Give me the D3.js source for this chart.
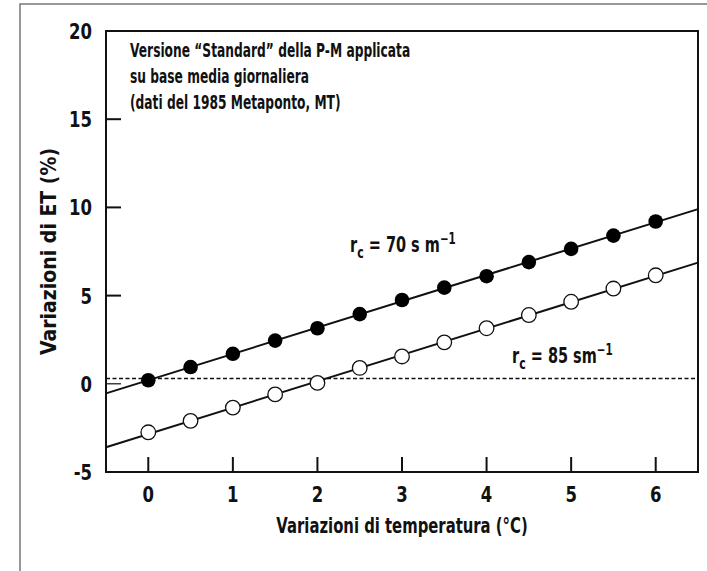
<!DOCTYPE html>
<html>
<head>
<meta charset="utf-8">
<script src="https://cdn.jsdelivr.net/npm/d3@7"></script>
<style>
  body { margin: 0; background: #fff; }
  svg text { font-family: "DejaVu Sans", sans-serif; font-weight: bold; fill: #111; }
</style>
</head>
<body>
<div id="img"></div>
<script>
// variazioni di temperatura (°C)
const temp = [0, 0.5, 1, 1.5, 2, 2.5, 3, 3.5, 4, 4.5, 5, 5.5, 6];
// variazioni di ET (%) per rc = 70 s m-1 e rc = 85 s m-1
const et70 = [0.2, 0.95, 1.7, 2.45, 3.15, 3.95, 4.75, 5.45, 6.1, 6.9, 7.65, 8.4, 9.2];
const et85 = [-2.75, -2.1, -1.35, -0.6, 0.05, 0.9, 1.55, 2.35, 3.15, 3.9, 4.65, 5.4, 6.15];
const xTicks = [0, 1, 2, 3, 4, 5, 6];
const yTicks = [-5, 0, 5, 10, 15, 20];
const refLevel = 0.3;
const noteLines = ["Versione \u201CStandard\u201D della P-M applicata", "su base media giornaliera", "(dati del 1985 Metaponto, MT)"];

const W = 707, H = 571;
const svg = d3.select("#img").append("svg")
    .attr("width", W)
    .attr("height", H);

// cornice esterna (solo lato sinistro e superiore visibili)
svg.append("path")
    .attr("d", "M20," + H + "V4H" + W)
    .attr("fill", "none")
    .attr("stroke", "#777")
    .attr("stroke-width", 1.5);

const x = d3.scaleLinear().domain([-0.5, 6.5]).range([106, 698]);
const y = d3.scaleLinear().domain([-5, 20]).range([472, 31]);

// testo "stretto": il carattere viene compresso in orizzontale di un fattore k
function narrow(parent, px, py, size, k, anchor, rot) {
    return parent.append("g")
        .attr("transform", "translate(" + px + "," + py + ")" + (rot ? " rotate(" + rot + ")" : "") + " scale(" + k + ",1)")
        .append("text")
        .attr("font-size", size)
        .attr("text-anchor", anchor || "start");
}

const g = svg.append("g");

// riquadro del grafico
g.append("rect")
    .attr("x", x(-0.5)).attr("y", y(20))
    .attr("width", x(6.5) - x(-0.5)).attr("height", y(-5) - y(20))
    .attr("fill", "none").attr("stroke", "#111").attr("stroke-width", 2);

// tacche interne
g.selectAll(".xt").data(xTicks).enter().append("line")
    .attr("x1", d => x(d)).attr("x2", d => x(d))
    .attr("y1", y(-5)).attr("y2", y(-5) - 15)
    .attr("stroke", "#111").attr("stroke-width", 2);
g.selectAll(".yt").data(yTicks).enter().append("line")
    .attr("x1", x(-0.5)).attr("x2", x(-0.5) + 15)
    .attr("y1", d => y(d)).attr("y2", d => y(d))
    .attr("stroke", "#111").attr("stroke-width", d => d === 0 ? 1.2 : 2);

// etichette delle tacche
xTicks.forEach(d => narrow(g, x(d), 502, 22, 0.75, "middle").text(d));
yTicks.forEach(d => narrow(g, 92, y(d) + 8, 22, 0.75, "end").text(d));

// titoli degli assi
narrow(svg, 402, 533, 22, 0.675, "middle").text("Variazioni di temperatura (°C)");
narrow(svg, 56, y(7.5), 22, 0.86, "middle", -90).text("Variazioni di ET (%)");

// linea tratteggiata di riferimento
g.append("line")
    .attr("x1", x(-0.5)).attr("x2", x(6.5))
    .attr("y1", y(refLevel)).attr("y2", y(refLevel))
    .attr("stroke", "#111").attr("stroke-width", 1.5)
    .attr("stroke-dasharray", "4,2.5");

// rette di regressione sui punti
function fit(xs, ys) {
    const mx = d3.mean(xs), my = d3.mean(ys);
    const b = d3.sum(xs, (v, i) => (v - mx) * (ys[i] - my)) / d3.sum(xs, v => (v - mx) * (v - mx));
    return v => my + b * (v - mx);
}
[et70, et85].forEach(s => {
    const f = fit(temp, s);
    g.append("line")
        .attr("x1", x(-0.5)).attr("y1", y(f(-0.5)))
        .attr("x2", x(6.5)).attr("y2", y(f(6.5)))
        .attr("stroke", "#111").attr("stroke-width", 2);
});

// punti
g.selectAll(".p70").data(temp).enter().append("circle")
    .attr("cx", d => x(d)).attr("cy", (d, i) => y(et70[i]))
    .attr("r", 7.3).attr("fill", "#000");
g.selectAll(".p85").data(temp).enter().append("circle")
    .attr("cx", d => x(d)).attr("cy", (d, i) => y(et85[i]))
    .attr("r", 7.3).attr("fill", "#fff").attr("stroke", "#111").attr("stroke-width", 1.3);

// etichette delle serie
function rcLabel(px, py, rest) {
    const t = narrow(svg, px, py, 21, 0.69);
    t.append("tspan").text("r");
    t.append("tspan").attr("dy", 6).attr("font-size", 16).text("c");
    const m = rest.split("^");
    t.append("tspan").attr("dy", -6).text(m[0]);
    t.append("tspan").attr("dy", -8).attr("font-size", 15).text(m[1]);
}
rcLabel(350, 252, " = 70 s m^\u22121");
rcLabel(512, 363, " = 85 sm^\u22121");

// nota in alto
noteLines.forEach((d, i) => narrow(svg, 130, 57 + i * 26, 19, 0.645).text(d));
</script>
</body>
</html>
